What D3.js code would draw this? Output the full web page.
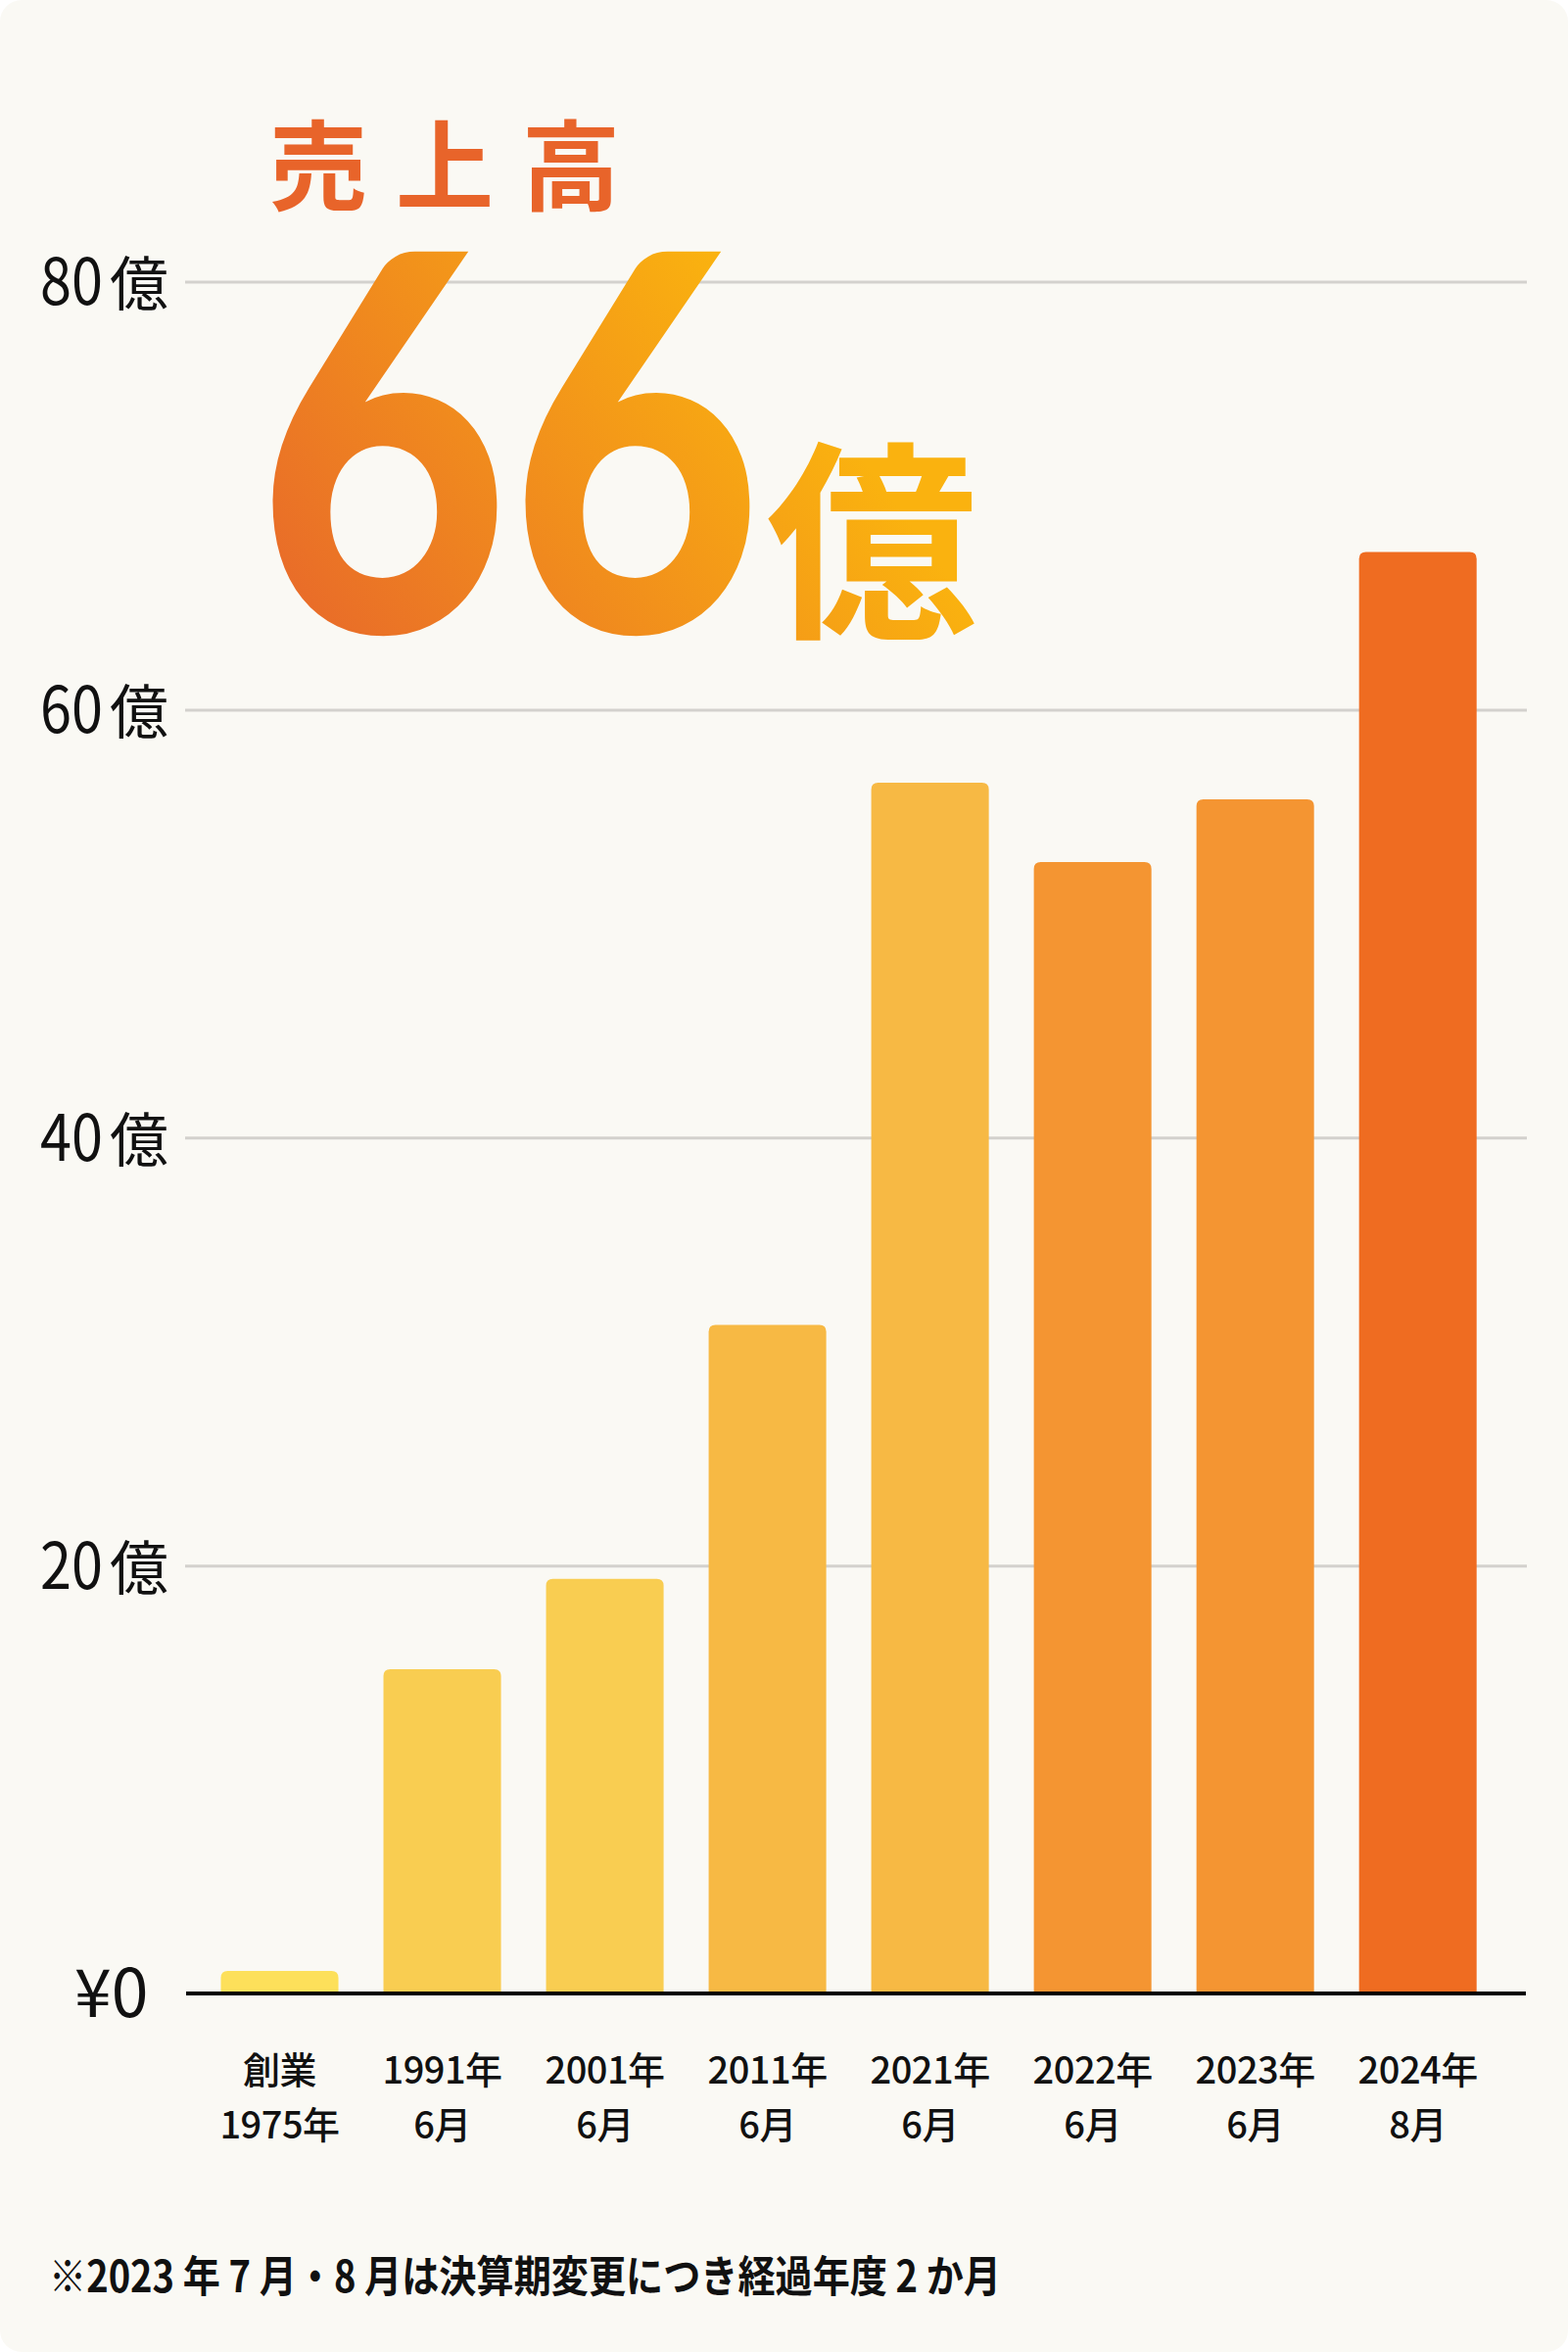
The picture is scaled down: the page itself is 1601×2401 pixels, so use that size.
<!DOCTYPE html>
<html lang="ja">
<head>
<meta charset="utf-8">
<script src="https://cdn.jsdelivr.net/npm/d3@7"></script>
<style>
  html, body { margin: 0; padding: 0; background: #ffffff; }
  svg { display: block; }
</style>
</head>
<body>
<svg id="chart" width="1601" height="2401"></svg>
<script>
// ---- data ----
const categories = ["創業\n1975年", "1991年\n6月", "2001年\n6月", "2011年\n6月", "2021年\n6月", "2022年\n6月", "2023年\n6月", "2024年\n8月"];
const sales = [1.05, 15.15, 19.38, 31.25, 56.58, 52.87, 55.8, 67.37]; // 億円
const barColors = ["#FDE05A", "#F9CD51", "#F9CD51", "#F7B944", "#F7B944", "#F49532", "#F49532", "#EF6C21"];
const yTickValues = [0, 20, 40, 60, 80];
const yTickLabels = ["¥0", "20億", "40億", "60億", "80億"];
const titleText = "売上高";
const headlineValue = "66";
const headlineUnit = "億";
const footnote = "※2023 年 7 月・8 月は決算期変更につき経過年度 2 か月";

// ---- layout ----
const W = 1601, H = 2401;
const svg = d3.select("#chart");
const JP = "'Noto Sans CJK JP', 'Noto Sans', sans-serif";

const defs = svg.append("defs");
const grad = defs.append("linearGradient")
  .attr("id", "headGrad")
  .attr("gradientUnits", "userSpaceOnUse")
  .attr("x1", 290).attr("y1", 640).attr("x2", 760).attr("y2", 300);
grad.append("stop").attr("offset", 0).attr("stop-color", "#E8692A");
grad.append("stop").attr("offset", 1).attr("stop-color", "#FAB20F");

// card background
svg.append("rect").attr("x", 0).attr("y", 0).attr("width", W).attr("height", H)
  .attr("rx", 22).attr("fill", "#FAF9F4");

// scales
const x = d3.scaleBand().domain(categories).range([225.5, 1507.7])
  .paddingInner(0.277).paddingOuter(0);
const y = d3.scaleLinear().domain([0, 80]).range([2035, 287.5]);

// gridlines
const grid = svg.append("g")
  .attr("transform", "translate(189,0)")
  .call(d3.axisLeft(y).tickValues(yTickValues.filter(v => v > 0)).tickSize(-1370).tickFormat(""));
grid.select(".domain").remove();
grid.selectAll(".tick line").attr("stroke", "#D3D1CD").attr("stroke-width", 3);

// bars with rounded tops
const r = 7;
function barPath(d, i) {
  const x0 = x(categories[i]), w = x.bandwidth();
  const yt = y(d), yb = y(0);
  return `M${x0},${yb} L${x0},${yt + r} Q${x0},${yt} ${x0 + r},${yt} L${x0 + w - r},${yt} Q${x0 + w},${yt} ${x0 + w},${yt + r} L${x0 + w},${yb} Z`;
}
svg.append("g").selectAll("path").data(sales).join("path")
  .attr("d", barPath)
  .attr("fill", (d, i) => barColors[i]);

// baseline
svg.append("line").attr("x1", 190).attr("x2", 1558)
  .attr("y1", y(0)).attr("y2", y(0))
  .attr("stroke", "#000").attr("stroke-width", 4);

// y tick labels
const yl = svg.append("g").attr("fill", "#111");
yTickValues.forEach((v, i) => {
  const lab = yTickLabels[i];
  const yy = y(v) + 23.5;
  if (v === 0) {
    yl.append("text").attr("x", 76).attr("y", yy)
      .attr("font-family", JP).attr("font-size", 68).text(lab);
  } else {
    const num = lab.replace("億", "");
    yl.append("text").attr("x", 41).attr("y", yy)
      .attr("font-family", JP).attr("font-size", 66)
      .attr("textLength", 64).attr("lengthAdjust", "spacingAndGlyphs").text(num);
    yl.append("text").attr("x", 112).attr("y", yy + 1)
      .attr("font-family", JP).attr("font-size", 60).text("億");
  }
});

// x labels (centered under bars)
const xa = svg.append("g");
categories.forEach(c => {
  const [l1, l2] = c.split("\n");
  const cx = x(c) + x.bandwidth() / 2;
  const t = xa.append("text").attr("text-anchor", "middle")
    .attr("font-family", JP).attr("font-size", 38).attr("font-weight", 500).attr("fill", "#111")
    .attr("letter-spacing", -0.5);
  t.append("tspan").attr("x", cx).attr("y", 2127).text(l1);
  t.append("tspan").attr("x", cx).attr("y", 2183).text(l2);
});

// title
svg.append("text").attr("x", 275).attr("y", 207)
  .attr("font-family", JP).attr("font-weight", 700).attr("font-size", 100)
  .attr("letter-spacing", 29).attr("fill", "#E8642A").text(titleText);

// headline figure
svg.append("text").attr("x", 262).attr("y", 645)
  .attr("font-family", "Lato, Inter, 'Open Sans', sans-serif").attr("font-weight", 900)
  .attr("font-size", 535)
  .attr("textLength", 516).attr("lengthAdjust", "spacingAndGlyphs")
  .attr("fill", "url(#headGrad)").text(headlineValue);
svg.append("text").attr("x", 782).attr("y", 634)
  .attr("font-family", JP).attr("font-weight", 700).attr("font-size", 216)
  .attr("fill", "url(#headGrad)").text(headlineUnit);

// footnote
svg.append("text").attr("x", 50).attr("y", 2340)
  .attr("font-family", JP).attr("font-weight", 700).attr("font-size", 44)
  .attr("textLength", 972).attr("lengthAdjust", "spacingAndGlyphs")
  .attr("fill", "#111").text(footnote);
</script>
</body>
</html>
